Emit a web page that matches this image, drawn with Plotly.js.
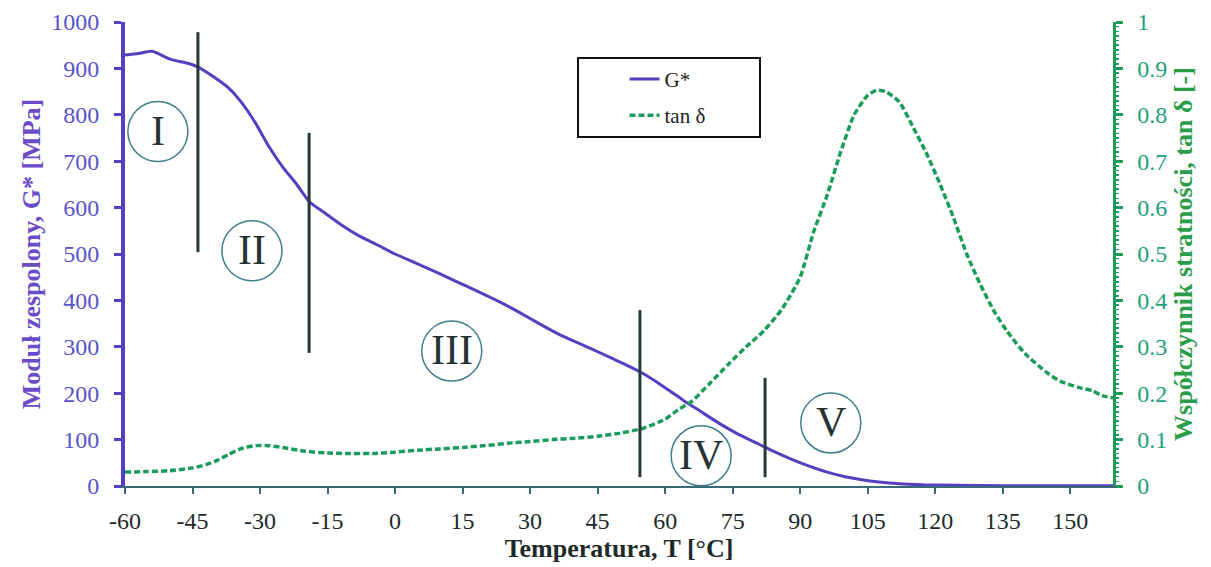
<!DOCTYPE html>
<html>
<head>
<meta charset="utf-8">
<script src="https://cdn.plot.ly/plotly-3.0.1.min.js"></script>
<style>html,body{margin:0;padding:0;background:#fff;}#chart{width:1211px;height:567px;}</style>
</head>
<body>
<div id="chart"></div>
<script>
// G* (complex modulus) [MPa] vs temperature
var tempG = [-60,-57,-54,-50,-46,-44,-40,-37,-34,-31,-28,-25,-22,-19,-16,-12,-8,-4,0,4,8,12,16,20,24,28,32,36,40,44,48,52,55,60,64,68,72,76,80,84,88,92,96,100,104,108,112,116,120,130,140,150,159.5];
var gStar = [929,932,937,920,911,904,880,858,825,782,731,688,652,612,591,563,539,520,500,483,466,448,430,412,393,372,350,329,311,294,276,258,243,212,185,160,135,113,94,75,58,43,30,20,13,8,5,3,2,1,0.5,0.5,0.5];

// tan delta (loss factor) vs temperature
var tempT = [-60,-55,-50,-45,-42,-40,-37,-34,-31,-28,-25,-20,-15,-10,-5,0,5,10,15,20,25,30,35,40,45,50,55,60,63,66,70,74,78,82,86,90,93,96,99,102,105,107,109,112,115,118,121,124,127,130,133,136,140,145,148,152,155,157,159.5];
var tanD = [0.030,0.031,0.033,0.039,0.046,0.053,0.068,0.081,0.087,0.087,0.083,0.075,0.071,0.070,0.070,0.073,0.077,0.080,0.083,0.087,0.092,0.096,0.100,0.103,0.107,0.114,0.124,0.144,0.165,0.183,0.222,0.262,0.300,0.335,0.382,0.450,0.548,0.627,0.720,0.800,0.842,0.853,0.850,0.828,0.775,0.718,0.652,0.580,0.500,0.435,0.378,0.333,0.285,0.243,0.225,0.212,0.205,0.195,0.190];

// X tick labels (hyphen minus as in the original)
var xTickVals = [-60,-45,-30,-15,0,15,30,45,60,75,90,105,120,135,150];
var xTickText = ['-60','-45','-30','-15','0','15','30','45','60','75','90','105','120','135','150'];

// Region dividers (temperature, top and bottom in MPa)
var divT = [-43.8, -19.1, 54.4, 82.2];
var divTop = [978, 761, 379, 233];
var divBot = [504, 287, 19, 19];

// Region labels
var regLabels = ['I','II','III','IV','V'];
var regT = [-52.7, -31.8, 12.6, 68.0, 96.8];
var regG = [764, 507, 291, 65, 136];

var serif = 'Liberation Serif, Times New Roman, serif';
var purple = '#5540c0';
var purpleTxt = '#5a52cc';
var green = '#1a9d5c';
var greenTxt = '#2a9d48';
var pad = '\u00a0\u00a0\u00a0\u00a0\u00a0\u00a0\u00a0\u00a0\u00a0';

var traces = [
  {x: tempG, y: gStar, type: 'scatter', mode: 'lines', name: 'G*', legendgroup: 'a',
   line: {color: purple, width: 3, shape: 'spline', smoothing: 0.6}, yaxis: 'y'},
  {x: tempT, y: tanD, type: 'scatter', mode: 'lines', name: 'tan δ' + pad, legendgroup: 'b',
   line: {color: green, width: 3.5, dash: '6px,3px', shape: 'spline', smoothing: 0.6}, yaxis: 'y2'}
];

var shapes = [];
for (var i = 0; i < divT.length; i++) {
  shapes.push({type: 'line', xref: 'x', yref: 'y', x0: divT[i], x1: divT[i], y0: divBot[i], y1: divTop[i],
    line: {color: '#263838', width: 3}});
}
var annotations = [];
for (var j = 0; j < regLabels.length; j++) {
  shapes.push({type: 'circle', xref: 'x', yref: 'y', xsizemode: 'pixel', ysizemode: 'pixel',
    xanchor: regT[j], yanchor: regG[j], x0: -30, x1: 30, y0: -30, y1: 30,
    line: {color: '#3f7f8c', width: 1.5}});
  annotations.push({x: regT[j], y: regG[j], xref: 'x', yref: 'y', text: regLabels[j], showarrow: false,
    font: {family: serif, size: 42, color: '#263333'}, yshift: 1});
}

var layout = {
  width: 1211, height: 567,
  margin: {l: 125, r: 98, t: 22, b: 81, pad: 0},
  paper_bgcolor: '#ffffff', plot_bgcolor: '#ffffff',
  showlegend: true,
  legend: {x: 0.457, y: 0.925, xanchor: 'left', yanchor: 'top', bgcolor: '#ffffff',
    bordercolor: '#111111', borderwidth: 2, font: {family: serif, size: 21, color: '#222'},
    indentation: 46, tracegroupgap: 6, traceorder: 'grouped'},
  xaxis: {range: [-60, 159.5], tickvals: xTickVals, ticktext: xTickText, showgrid: false, zeroline: false,
    showline: true, linecolor: '#3a6a78', linewidth: 2, ticks: 'outside', ticklen: 6, tickwidth: 2,
    tickcolor: '#3a6a78', ticklabelstandoff: 6,
    tickfont: {family: serif, size: 24, color: '#1e2a2a'},
    title: {text: '<b>Temperatura, T [°C]</b>', font: {family: serif, size: 26, color: '#1e2a2a'}, standoff: 4}},
  yaxis: {range: [0, 1000], dtick: 100, showgrid: false, zeroline: false,
    showline: true, linecolor: purple, linewidth: 4, ticks: 'outside', ticklen: 7, tickwidth: 3,
    tickcolor: purple, ticklabelstandoff: 10,
    tickfont: {family: serif, size: 24, color: purpleTxt},
    title: {text: '<b>Moduł zespolony, G* [MPa]</b>', font: {family: serif, size: 26, color: '#6a4cc8'}, standoff: 4}},
  yaxis2: {range: [0, 1], dtick: 0.1, overlaying: 'y', side: 'right', showgrid: false, zeroline: false,
    showline: true, linecolor: green, linewidth: 2.5, ticks: 'outside', ticklen: 7, tickwidth: 3,
    tickcolor: green, ticklabelstandoff: 10,
    minor: {dtick: 0.01, ticks: 'outside', ticklen: 3, tickwidth: 1.5, tickcolor: green, showgrid: false},
    tickfont: {family: serif, size: 24, color: '#22a07a'},
    title: {text: '<b>Współczynnik stratności, tan δ [-]</b>', font: {family: serif, size: 26, color: greenTxt}, standoff: 8}},
  shapes: shapes,
  annotations: annotations
};

Plotly.newPlot('chart', traces, layout, {displayModeBar: false, staticPlot: true});
</script>
</body>
</html>
